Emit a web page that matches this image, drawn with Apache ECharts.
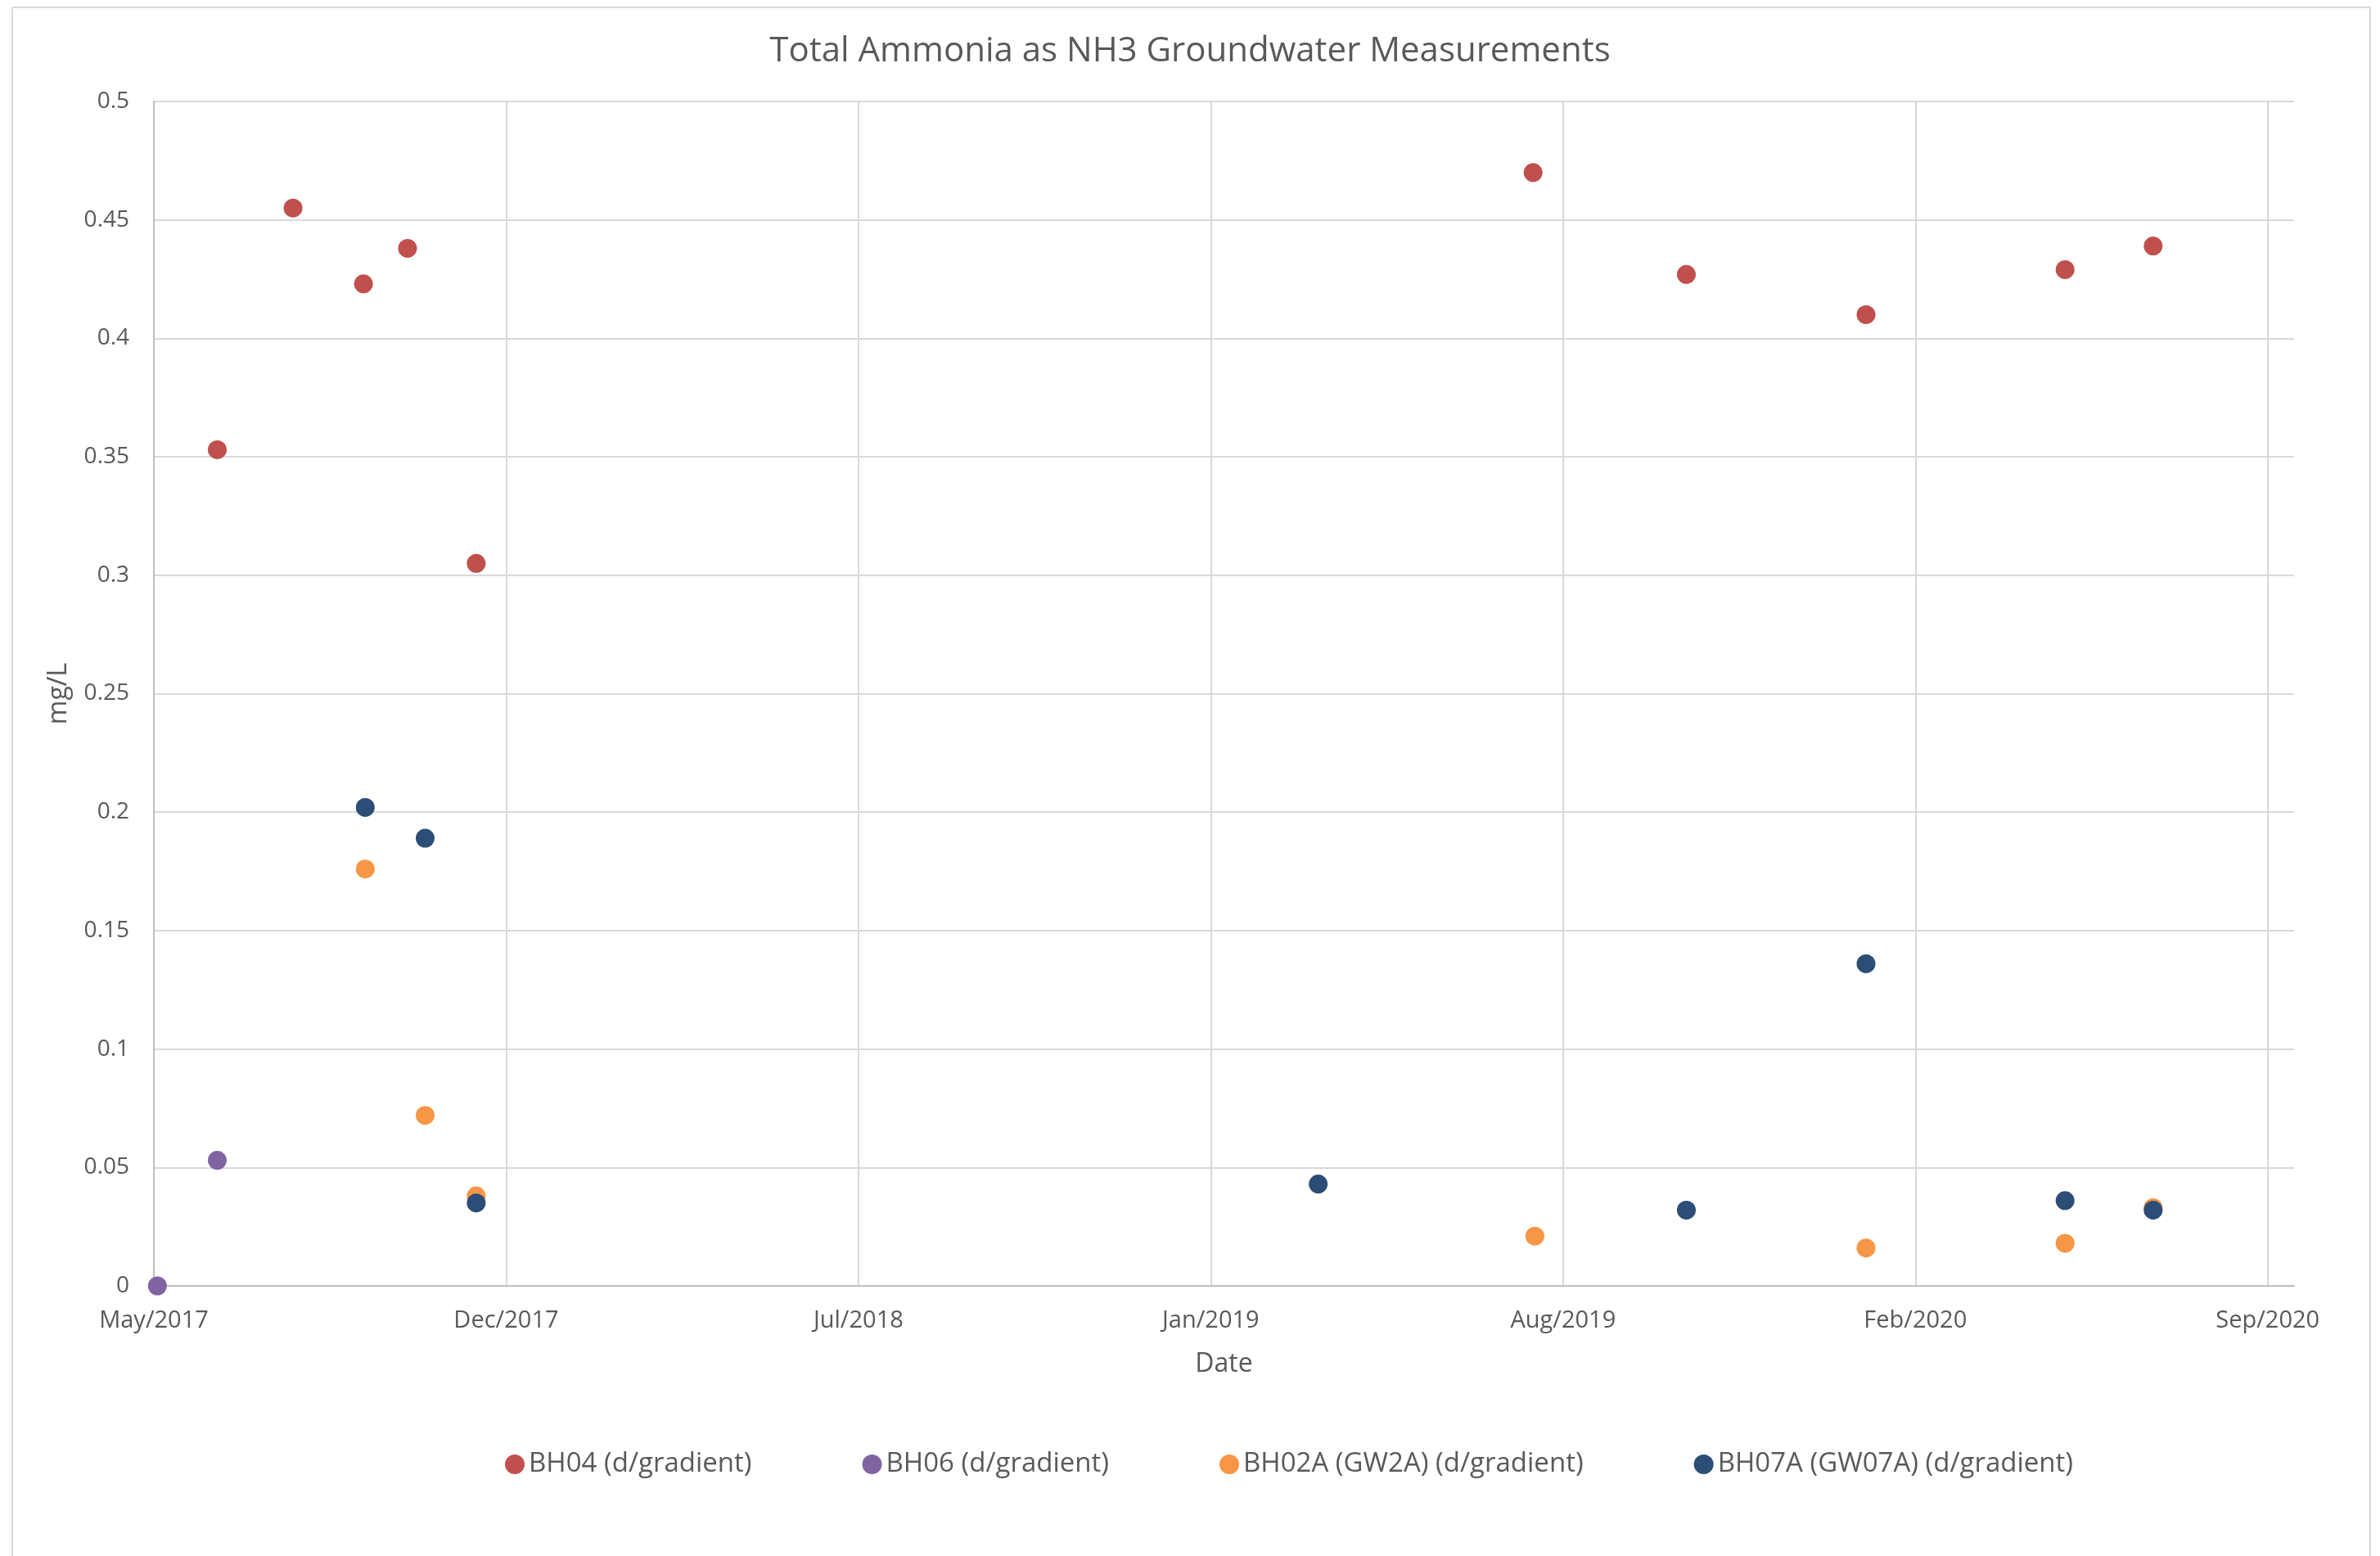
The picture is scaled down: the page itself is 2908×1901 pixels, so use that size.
<!DOCTYPE html>
<html>
<head>
<meta charset="utf-8">
<script src="https://cdn.jsdelivr.net/npm/echarts@6/dist/echarts.min.js"></script>
<style>
  html, body { margin: 0; padding: 0; background: #ffffff; }
  #chart { width: 2908px; height: 1901px; }
</style>
</head>
<body>
<div id="chart"></div>
<script>
// ---- Data ----
const seriesNames = ['BH04 (d/gradient)', 'BH06 (d/gradient)', 'BH02A (GW2A) (d/gradient)', 'BH07A (GW07A) (d/gradient)'];

const bh04Dates  = ['2017-07-05','2017-08-17','2017-09-26','2017-10-21','2017-11-29','2019-07-22','2019-10-17','2020-01-27','2020-05-19','2020-07-08'];
const bh04Values = [0.353, 0.455, 0.423, 0.438, 0.305, 0.470, 0.427, 0.410, 0.429, 0.439];

const bh06Dates  = ['2017-06-01','2017-07-05'];
const bh06Values = [0.000, 0.053];

const bh02aDates  = ['2017-09-27','2017-10-31','2017-11-29','2019-07-23','2020-01-27','2020-05-19','2020-07-08'];
const bh02aValues = [0.176, 0.072, 0.038, 0.021, 0.016, 0.018, 0.033];

const bh07aDates  = ['2017-09-27','2017-10-31','2017-11-29','2019-03-22','2019-10-17','2020-01-27','2020-05-19','2020-07-08'];
const bh07aValues = [0.202, 0.189, 0.035, 0.043, 0.032, 0.136, 0.036, 0.032];

// x-axis tick labels (one every 200 days from the axis start)
const xTickLabels = ['May/2017','Dec/2017','Jul/2018','Jan/2019','Aug/2019','Feb/2020','Sep/2020'];
const axisStartDate = '2017-05-30';
const tickDays = 200;
const axisEndDays = 1215;

const colors = ['#C0504D', '#8064A2', '#F79646', '#2C4D75'];

// ---- helpers ----
function toUTC(s) { const p = s.split('-').map(Number); return Date.UTC(p[0], p[1] - 1, p[2]); }
const BASE = toUTC(axisStartDate);
function dayOf(s) { return (toUTC(s) - BASE) / 86400000; }
function pairs(dates, vals) { return dates.map((d, i) => [dayOf(d), vals[i]]); }

const chart = echarts.init(document.getElementById('chart'), null, { renderer: 'canvas' });
const FONT = '"Open Sans", sans-serif';
const TXT = '#595959';

function mkSeries(name, data, color) {
  return {
    name: name, type: 'scatter', data: data, symbol: 'circle', symbolSize: 23,
    itemStyle: { color: color, opacity: 1 },
    emphasis: { disabled: true }
  };
}

chart.setOption({
  animation: false,
  backgroundColor: '#ffffff',
  color: colors,
  textStyle: { fontFamily: FONT },
  graphic: [{
    type: 'rect', silent: true, z: -10,
    shape: { x: 15, y: 9, width: 2881, height: 1910 },
    style: { fill: 'none', stroke: '#d9d9d9', lineWidth: 2 }
  }],
  title: {
    text: 'Total Ammonia as NH3 Groundwater Measurements',
    left: 'center', top: 37,
    textStyle: { fontFamily: FONT, fontSize: 42, fontWeight: 'normal', color: TXT }
  },
  legend: {
    left: 612, top: 1765,
    itemWidth: 24, itemHeight: 24, itemGap: 135,
    icon: 'circle',
    textStyle: { fontFamily: FONT, fontSize: 33, color: TXT, lineHeight: 38 },
    data: seriesNames
  },
  grid: { left: 188, right: 105, top: 124, bottom: 330, containLabel: false },
  xAxis: {
    type: 'value', min: 0, max: axisEndDays, interval: tickDays,
    name: 'Date', nameLocation: 'middle', nameGap: 80,
    nameTextStyle: { fontFamily: FONT, fontSize: 32, color: TXT },
    axisLine: { show: true, onZero: false, lineStyle: { color: '#bfbfbf', width: 2 } },
    axisTick: { show: false },
    axisLabel: {
      fontFamily: FONT, fontSize: 29, color: TXT, margin: 28, showMaxLabel: false,
      formatter: function (v) { const i = Math.round(v / tickDays); return xTickLabels[i] || ''; }
    },
    splitLine: { show: true, showMaxLine: false, lineStyle: { color: '#d9d9d9', width: 2 } }
  },
  yAxis: {
    type: 'value', min: 0, max: 0.5, interval: 0.05,
    name: 'mg/L', nameLocation: 'middle', nameGap: 100,
    nameTextStyle: { fontFamily: FONT, fontSize: 32, color: TXT },
    axisLine: { show: true, lineStyle: { color: '#bfbfbf', width: 2 } },
    axisTick: { show: false },
    axisLabel: { fontFamily: FONT, fontSize: 28, color: TXT, margin: 30 },
    splitLine: { show: true, lineStyle: { color: '#d9d9d9', width: 2 } }
  },
  series: [
    mkSeries(seriesNames[0], pairs(bh04Dates, bh04Values), colors[0]),
    mkSeries(seriesNames[1], pairs(bh06Dates, bh06Values), colors[1]),
    mkSeries(seriesNames[2], pairs(bh02aDates, bh02aValues), colors[2]),
    mkSeries(seriesNames[3], pairs(bh07aDates, bh07aValues), colors[3])
  ]
});
</script>
</body>
</html>
